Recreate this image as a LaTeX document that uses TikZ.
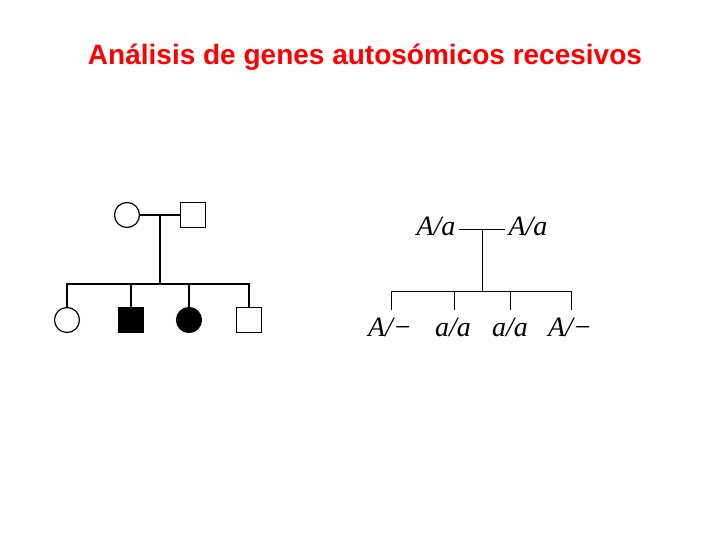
\documentclass[tikz,border=0pt]{standalone}
\usepackage{fontspec}
\setmainfont{Liberation Serif}
\newfontfamily\arialf{Liberation Sans}
\usetikzlibrary{calc}
\begin{document}
\begin{tikzpicture}[x=1pt,y=-1pt,
  ln/.style={line width=1.4pt},
  thin/.style={line width=0.9pt},
  circ/.style={circle,draw,line width=1.2pt,minimum size=25pt,inner sep=0},
  sq/.style={rectangle,draw,line width=1.2pt,minimum size=25pt,inner sep=0},
  gt/.style={inner sep=0,font=\itshape\fontsize{28}{30}\selectfont}]
\useasboundingbox (0,0) rectangle (720,540);
\node[font=\arialf\bfseries\fontsize{28}{32}\selectfont,text=red] (title) at (365,57) {Análisis de genes autosómicos recesivos};
\node[circ] (m) at (127,215) {};
\node[sq] (f) at (193,215) {};
\coordinate (mj) at (160,215);
\coordinate (sj) at (160,284);
\draw[ln] (m) -- (f);
\draw[ln] (mj) -- (sj);
\node[circ] (c1) at (67,320) {};
\node[sq,fill=black] (c2) at (131,320) {};
\node[circ,fill=black] (c3) at (189,320) {};
\node[sq] (c4) at (249,320) {};
\draw[ln] (c1.north) -- ++(0,-23) -| (c4.north);
\draw[ln] (c2.north) -- ++(0,-23);
\draw[ln] (c3.north) -- ++(0,-23);
% genotypes
\node[gt] (g1) at (436,226) {A/a};
\node[gt] (g2) at (528,226) {A/a};
\coordinate (gj) at (482,229);
\coordinate (gs) at (482,291);
\draw[thin] ($(g1.east)+(3,3)$) -- ($(g2.west)+(-3,3)$);
\draw[thin] (gj) -- (gs);
\node[gt] (k1) at (390,327) {A/−};
\node[gt] (k2) at (453,327) {a/a};
\node[gt] (k3) at (510,327) {a/a};
\node[gt] (k4) at (570,327) {A/−};
\draw[thin] (391,310) -- (391,291) -- (571,291) -- (571,310);
\draw[thin] (454,291) -- (454,310);
\draw[thin] (510,291) -- (510,310);
\end{tikzpicture}
\end{document}
